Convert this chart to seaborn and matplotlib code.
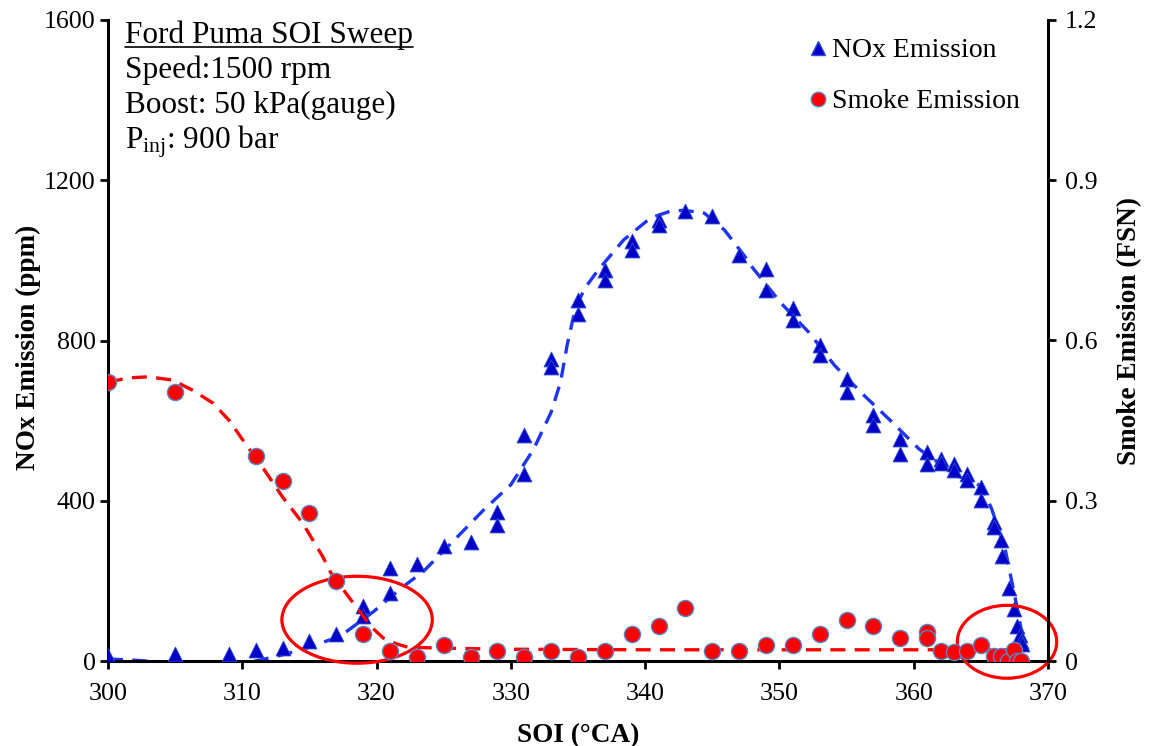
import numpy as np
import pandas as pd
import matplotlib
matplotlib.use("Agg")
import matplotlib.pyplot as plt
import seaborn as sns
from matplotlib.patches import Ellipse
from matplotlib.lines import Line2D

# ---------------- data ----------------
nox_soi = [300, 305, 309, 311, 313, 315, 317, 319, 319, 321, 321, 323, 325, 327,
           329, 329, 331, 331, 333, 333, 335, 335, 337, 337, 339, 339, 341, 341,
           343, 345, 347, 349, 349, 351, 351, 353, 353, 355, 355, 357, 357,
           359, 359, 361, 361, 362, 362, 363, 363, 364, 364, 365, 365, 366, 366,
           366.5, 366.6, 367.1, 367.5, 367.7, 367.9, 368, 368.1]
nox_ppm = [12, 17, 17, 27, 33, 50, 67, 137, 112, 231, 169, 241, 286, 298,
           373, 340, 564, 467, 753, 733, 902, 865, 976, 952, 1048, 1026, 1100, 1088,
           1123, 1111, 1014, 979, 927, 882, 850, 790, 765, 703, 671, 614, 589,
           554, 517, 522, 492, 504, 495, 492, 477, 467, 452, 435, 403, 348, 335,
           303, 261, 181, 129, 87, 65, 50, 42]

smoke_soi = [300, 305, 311, 313, 315, 317, 319, 321, 323, 325, 327, 329, 331, 333,
             335, 337, 339, 341, 343, 345, 347, 349, 351, 353, 355, 357, 359, 361,
             361, 362, 363, 364, 365, 366, 366.5, 367, 367.5, 367.7, 368]
smoke_fsn = [0.522, 0.504, 0.384, 0.337, 0.277, 0.149, 0.050, 0.019, 0.007, 0.030,
             0.007, 0.019, 0.007, 0.019, 0.007, 0.019, 0.050, 0.065, 0.099, 0.019,
             0.019, 0.030, 0.030, 0.050, 0.076, 0.065, 0.043, 0.054, 0.043, 0.019,
             0.017, 0.019, 0.030, 0.009, 0.009, 0.0, 0.020, 0.0, 0.0]

# dashed trend lines
nox_trend_soi = [300, 302, 304, 306, 308, 310, 311, 312.6, 314.6, 317.3, 319.8, 321.8,
                 323.5, 325.5, 328, 330, 331.7, 333, 333.7, 334.2, 334.8, 335.5, 336.5,
                 338.4, 340.4, 341.9, 342.9, 344.4, 345.9, 347.4, 347.9, 350.1, 352.2,
                 354.1, 356.3, 358.4, 360.4, 362.1, 363.4, 364.5, 365.1, 365.8, 366.8,
                 367.3, 367.8, 368.2]
nox_trend_ppm = [5, 2, -3, -5, -5, -3, 0, 12, 30, 62, 124, 181,
                 224, 292, 378, 440, 529, 621, 696, 790, 880, 930, 976,
                 1051, 1106, 1123, 1125, 1118, 1076, 1011, 986, 894, 820,
                 738, 663, 596, 529, 489, 460, 445, 435, 380, 281,
                 199, 117, 42]

smoke_trend_soi = [300, 301.5, 303, 304.8, 306.3, 307.8, 309, 310.2, 311.5, 313, 314.5,
                   316, 316.6, 318.1, 319.6, 320.5, 321.5, 322.3, 324.8, 330, 340, 350,
                   360, 368]
smoke_trend_fsn = [0.522, 0.530, 0.532, 0.526, 0.507, 0.483, 0.451, 0.408, 0.363, 0.307,
                   0.258, 0.195, 0.165, 0.114, 0.064, 0.043, 0.032, 0.026, 0.024, 0.022,
                   0.021, 0.021, 0.021, 0.021]

x_ticks = [300, 310, 320, 330, 340, 350, 360, 370]
nox_ticks = [0, 400, 800, 1200, 1600]
fsn_ticks = [0, 0.3, 0.6, 0.9, 1.2]
fsn_tick_labels = ["0", "0.3", "0.6", "0.9", "1.2"]

annot_lines = ["Speed:1500 rpm", "Boost: 50 kPa(gauge)", r"$\mathregular{P_{inj}}$: 900 bar"]
annot_title = "Ford Puma SOI Sweep"

# ---------------- style ----------------
sns.set_theme(style="ticks")
plt.rcParams["font.family"] = ["Liberation Serif", "DejaVu Serif"]
plt.rcParams["mathtext.fontset"] = "custom"
plt.rcParams["mathtext.rm"] = "Liberation Serif"
plt.rcParams["mathtext.it"] = "Liberation Serif:italic"
plt.rcParams["mathtext.bf"] = "Liberation Serif:bold"
plt.rcParams["text.color"] = "black"
plt.rcParams["axes.labelcolor"] = "black"
plt.rcParams["xtick.color"] = "black"
plt.rcParams["ytick.color"] = "black"

FS = 18.7
LFS = 19.6
W, H = 1151, 746
fig = plt.figure(figsize=(W / 100, H / 100), dpi=100)
ax = fig.add_axes([108 / W, 1 - 661 / H, (1048 - 108) / W, (661 - 20) / H])
ax2 = ax.twinx()

blue_line = "#1F35F5"
tri_fill = "#0000C8"
red = "#FF0000"

nox_df = pd.DataFrame({"soi": nox_soi, "nox": nox_ppm})
smoke_df = pd.DataFrame({"soi": smoke_soi, "fsn": smoke_fsn})
nox_tr = pd.DataFrame({"soi": nox_trend_soi, "nox": nox_trend_ppm})
smk_tr = pd.DataFrame({"soi": smoke_trend_soi, "fsn": smoke_trend_fsn})

sns.lineplot(data=nox_tr, x="soi", y="nox", ax=ax, sort=False, estimator=None,
             color=blue_line, lw=2.4, zorder=2)
ax.lines[-1].set_dashes((4.5, 2.8))
sns.scatterplot(data=nox_df, x="soi", y="nox", ax=ax, marker="^", s=115,
                color=tri_fill, edgecolor="#2B4FD0", linewidth=0.6, zorder=3)

sns.lineplot(data=smk_tr, x="soi", y="fsn", ax=ax2, sort=False, estimator=None,
             color=red, lw=2.4, zorder=2)
ax2.lines[-1].set_dashes((4.5, 2.8))
sns.scatterplot(data=smoke_df, x="soi", y="fsn", ax=ax2, marker="o", s=135,
                color=red, edgecolor="#5A86C8", linewidth=1.0, zorder=3)

# ellipses highlighting regions
for (cx, cy, w, h) in [(318.55, 103, 11.2, 217), (366.95, 48, 7.4, 182)]:
    e = Ellipse((cx, cy), w, h, fill=False, edgecolor=red, lw=2.3, clip_on=False, zorder=5)
    ax.add_patch(e)

# axes limits and ticks
ax.set_xlim(300, 370)
ax.set_ylim(0, 1600)
ax2.set_ylim(0, 1.2)
ax.set_xticks(x_ticks)
ax.set_yticks(nox_ticks)
ax2.set_yticks(fsn_ticks)
ax2.set_yticklabels(fsn_tick_labels)

for a in (ax, ax2):
    a.spines["top"].set_visible(False)
    for s in ("left", "right", "bottom"):
        a.spines[s].set_linewidth(2.2)
        a.spines[s].set_color("black")
    a.tick_params(direction="out", length=6, width=2.0, labelsize=FS, colors="black")
ax.tick_params(axis="y", pad=3)
ax.tick_params(axis="x", pad=10)
ax2.tick_params(axis="y", pad=6)
ax.spines["right"].set_visible(False)
ax2.spines["left"].set_visible(False)
ax2.spines["bottom"].set_visible(False)

ax.set_xlabel("SOI (°CA)", fontsize=LFS, fontweight="bold", labelpad=13)
ax.set_ylabel("NOx Emission (ppm)", fontsize=LFS, fontweight="bold", labelpad=2)
ax2.set_ylabel("Smoke Emission (FSN)", fontsize=LFS, fontweight="bold", labelpad=14)
ax.yaxis.label.set_y(0.49)
ax2.yaxis.label.set_y(0.515)

# legend
handles = [
    Line2D([], [], marker="^", ls="none", color=tri_fill, markeredgecolor="#2B4FD0",
           markersize=9.5),
    Line2D([], [], marker="o", ls="none", color=red, markeredgecolor="#5A86C8",
           markersize=10.5),
]
ax2.legend(handles, ["NOx Emission", "Smoke Emission"], loc="upper left",
           bbox_to_anchor=(807 / W, 1 - 38 / H), bbox_transform=fig.transFigure,
           frameon=False, fontsize=20.0, handlelength=0.8, handletextpad=0.1,
           labelspacing=0.92, borderpad=0.0, borderaxespad=0.0)

# annotation text block
tx = 125
t0 = fig.text(tx / W, 1 - 43 / H, annot_title, fontsize=22.5, va="baseline", ha="left")
for i, line in enumerate(annot_lines):
    fig.text(tx / W, 1 - (78 + 35 * i) / H, line, fontsize=22.5, va="baseline", ha="left")

fig.canvas.draw()
bb = t0.get_window_extent(fig.canvas.get_renderer())
uy = 1 - 46.5 / H
fig.add_artist(Line2D([bb.x0 / W, bb.x1 / W], [uy, uy], transform=fig.transFigure,
                      color="black", lw=1.2))

fig.savefig("out.png", dpi=100)
